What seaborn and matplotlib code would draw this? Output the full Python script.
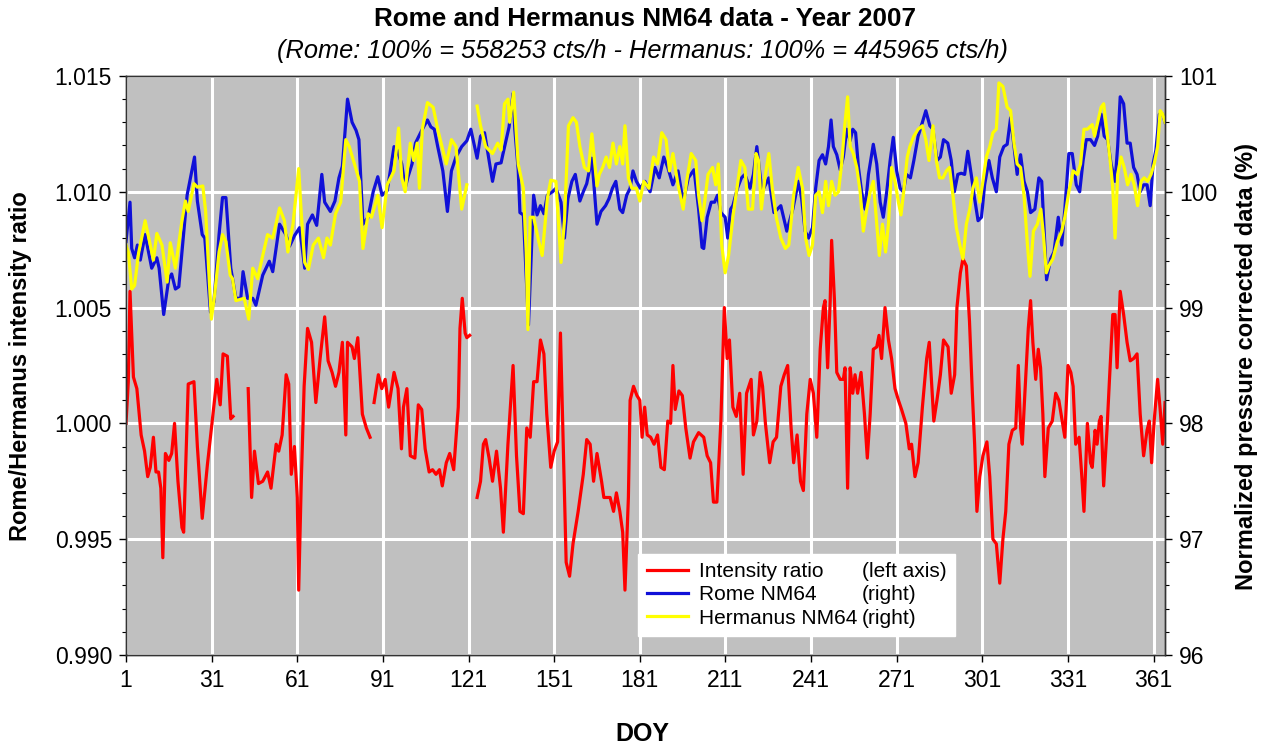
import numpy as np
import pandas as pd
import matplotlib
matplotlib.use("Agg")
import matplotlib.pyplot as plt
import seaborn as sns
from matplotlib.lines import Line2D
from matplotlib.ticker import MultipleLocator

# intensity ratio Rome/Hermanus (left axis), NaN = data gap
ratio_doy = [1, 1.8, 2.4, 3.6, 4.8, 6.3, 7.5, 8.6, 9.5, 10.6, 11.5, 12.4, 13.2, 13.9, 14.8, 16, 17, 18, 19.2, 20.6,
             21.2, 22.8, 24.8, 26, 27.7, 29.5, 31.2, 32.8, 34, 35, 36.5, 37.7, 38.5, 41,
             43.8, 45, 46, 47.4, 48.9, 50.6, 51.8, 53.6, 54.5, 55.7, 57.1, 58, 58.9, 60, 61, 61.5, 62.4, 63.4,
             64.6, 66, 67.5, 69, 70.6, 71.8, 73.2, 74.4, 75.6, 76.8, 78, 78.6, 80.2, 81, 82.2, 83.8, 85.2, 86.5, 87.2,
             87.9, 89.4, 90.6, 91.8, 93, 94.9, 96.3, 97.5, 98.2, 99.4, 100.6, 102.2, 103.4, 104.6, 105.8, 107.2,
             108.4, 109.6, 110.8, 111.8, 113.2, 114.4, 115.8, 117.4, 118, 118.8, 119.8, 120.4, 121.4, 122.7,
             124, 125.2, 126.2, 127, 128.2, 129.4, 130.8, 132.2, 133.2, 134.8, 136.6, 137.8, 139, 140.2, 141.4,
             142.6, 143.8, 145, 146.2, 147.4, 148.4, 149.8, 151, 152.2, 153.2, 154.4, 155.2, 156.4, 157.6, 159.4,
             161.2, 162.4, 163.6, 164.8, 166, 167.6, 168.4, 169.4, 170.6, 171.8, 172.8, 174, 175, 175.8, 177,
             177.6, 178.8, 180, 181, 181.8, 182.7, 183.6, 184.8, 186, 187.2, 188.4, 189.6, 190.8, 191.8, 192.6,
             193.4, 194.7, 195.9, 197.1, 198.6, 199.8, 201.6, 203.4, 204.6, 205.8, 206.8, 208, 209.4, 210.6,
             211.6, 212.4, 213.6, 214.8, 216, 217.2, 218.4, 220, 220.8, 222, 223.2, 224, 225, 226.5, 227.7, 228.9,
             230.4, 231.6, 232.8, 234, 234.9, 236.1, 237.3, 238.3, 239.5, 240.7, 241.8, 243, 244.2, 245.3, 245.9,
             246.8, 247.7, 248.2, 249.2, 250, 251.2, 252.3, 252.9, 253.8, 254.7, 255.6, 256.4, 257.3, 258.5,
             259.7, 260.7, 261.7, 262.8, 264, 264.8, 265.7, 266.9, 268.1, 269.2, 270.4, 271.6, 272.7, 274.2,
             275.4, 276.2, 277.4, 278.5, 280, 281.5, 282.4, 283.2, 284, 285.1, 286.3, 287.4, 289, 290.1, 291.3,
             292.1, 293.3, 294.2, 295.4, 296.5, 297.5, 298.3, 299.1, 300.1, 301.2, 302.6, 303.6, 304.7, 305.9,
             307.1, 308.2, 309.2, 310.3, 311.5, 312.7, 313.6, 314.4, 315, 315.9, 317.1, 317.9, 318.7, 319.7,
             320.6, 321.4, 322.2, 322.9, 324.1, 325.5, 326.7, 327.8, 329, 329.9, 331, 332, 332.8, 333.7, 334.9,
             335.8, 336.6, 337.8, 338.9, 339.5, 340.5, 341.2, 342, 342.6, 343.5, 344.7, 345.5, 346.7, 347.5,
             348.2, 349.3, 350.5, 351.7, 352.8, 354, 355.2, 356.3, 357.5, 358.7, 359.5, 360.3, 361.2, 362.4,
             363.3, 364.2, 365]
ratio_val = [1.0000, 1.0018, 1.0057, 1.0020, 1.0015, 0.9995, 0.9988, 0.9977, 0.9981, 0.9994, 0.9979, 0.9979,
             0.9972, 0.9942, 0.9987, 0.9984, 0.9987, 1.0000, 0.9975, 0.9955, 0.9953, 1.0017, 1.0018, 0.9990,
             0.9959, 0.9982, 1.0001, 1.0019, 1.0008, 1.0030, 1.0029, 1.0002, 1.0003, np.nan,
             1.0015, 0.9968, 0.9988, 0.9974, 0.9975, 0.9979, 0.9972, 0.9991, 0.9988, 0.9995, 1.0021, 1.0017,
             0.9978, 0.9990, 0.9968, 0.9928, 0.9975, 1.0016, 1.0041, 1.0035, 1.0009, 1.0028, 1.0046, 1.0027,
             1.0022, 1.0016, 1.0022, 1.0035, 0.9995, 1.0035, 1.0033, 1.0028, 1.0037, 1.0004, 0.9998, 0.9994,
             np.nan,
             1.0009, 1.0021, 1.0015, 1.0019, 1.0007, 1.0022, 1.0015, 0.9989, 1.0007, 1.0015, 0.9986, 0.9985,
             1.0008, 1.0006, 0.9989, 0.9979, 0.9980, 0.9978, 0.9980, 0.9973, 0.9983, 0.9987, 0.9980, 1.0007,
             1.0041, 1.0054, 1.0039, 1.0037, 1.0038, np.nan,
             0.9968, 0.9975, 0.9991, 0.9993, 0.9985, 0.9975, 0.9988, 0.9972, 0.9953, 0.9991, 1.0025, 0.9986,
             0.9962, 0.9961, 0.9998, 0.9994, 1.0018, 1.0018, 1.0036, 1.0030, 1.0004, 0.9981, 0.9988, 0.9992,
             1.0039, 0.9980, 0.9940, 0.9934, 0.9948, 0.9962, 0.9978, 0.9993, 0.9991, 0.9975, 0.9987, 0.9975,
             0.9968, 0.9968, 0.9968, 0.9962, 0.9970, 0.9962, 0.9953, 0.9928, 0.9968, 1.0010, 1.0016, 1.0012,
             1.0010, 0.9994, 1.0007, 0.9995, 0.9994, 0.9991, 0.9995, 0.9981, 0.9980, 1.0001, 1.0000, 1.0025,
             1.0006, 1.0014, 1.0012, 0.9998, 0.9985, 0.9992, 0.9996, 0.9994, 0.9986, 0.9983, 0.9966, 0.9966,
             1.0001, 1.0050, 1.0028, 1.0036, 1.0007, 1.0003, 1.0013, 0.9978, 1.0013, 1.0019, 0.9995, 1.0001,
             1.0022, 1.0016, 1.0000, 0.9983, 0.9992, 0.9994, 1.0016, 1.0021, 1.0025, 0.9998, 0.9983, 0.9995,
             0.9975, 0.9971, 1.0004, 1.0019, 1.0013, 0.9994, 1.0032, 1.0050, 1.0053, 1.0024, 1.0053, 1.0079,
             1.0053, 1.0022, 1.0019, 1.0019, 1.0024, 0.9972, 1.0024, 1.0013, 1.0021, 1.0013, 1.0022, 1.0004,
             0.9985, 1.0004, 1.0032, 1.0033, 1.0038, 1.0028, 1.0050, 1.0036, 1.0028, 1.0015, 1.0010, 1.0006,
             1.0000, 0.9989, 0.9991, 0.9977, 0.9983, 1.0007, 1.0028, 1.0035, 1.0018, 1.0001, 1.0010, 1.0021,
             1.0036, 1.0033, 1.0013, 1.0021, 1.0050, 1.0065, 1.0071, 1.0068, 1.0044, 1.0013, 0.9991, 0.9962,
             0.9977, 0.9986, 0.9992, 0.9977, 0.9950, 0.9948, 0.9931, 0.9950, 0.9962, 0.9991, 0.9997, 0.9998,
             1.0025, 0.9998, 0.9991, 1.0013, 1.0041, 1.0053, 1.0035, 1.0019, 1.0032, 1.0024, 1.0004, 0.9977,
             0.9998, 1.0001, 1.0013, 1.0010, 1.0001, 0.9994, 1.0025, 1.0022, 1.0016, 0.9991, 0.9994, 0.9978,
             0.9962, 1.0000, 0.9983, 0.9981, 0.9997, 0.9991, 1.0001, 1.0003, 0.9973, 0.9998, 1.0018, 1.0047,
             1.0047, 1.0024, 1.0057, 1.0047, 1.0035, 1.0027, 1.0028, 1.0030, 1.0004, 0.9986, 0.9997, 1.0001,
             0.9983, 1.0001, 1.0019, 1.0006, 0.9991, 1.0009]

# Rome NM64, % of reference (right axis)
rome_doy = [1, 2.4, 3, 4, 5, 6, 7.7, 10, 11.8, 12.6, 14.2, 16, 17, 18.3, 19.5, 22.4, 25, 26, 27.7, 28.6, 30.6,
            31.8, 33.6, 34.8, 36, 37.7, 39.5, 41.2, 42, 43.6, 45.4, 46.5, 48.9, 51.2, 52.4, 54.8, 57, 58.3, 60,
            61.8, 62.6, 63.6, 64.6, 66.3, 67.8, 69.6, 70.6, 72.6, 74.2, 75.6, 76.8, 78.6, 80.2, 81.6, 82.6, 84,
            85.8, 87.6, 89.2, 90.7, 92.5, 93.4, 94.9, 96, 97.6, 98.8, 99.8, 101.2, 102.4, 104.6, 106.6, 107.8,
            109, 110.2, 112, 113.6, 115, 116.6, 118.6, 120.4, 121.8, 124, 125.2, 126.6, 129.4, 130.6, 132.4, 133,
            135.2, 136.6, 137.2, 138.4, 139, 140.2, 142, 143.8, 145, 146.2, 147.4, 148.6, 150.4, 151.6, 153.4,
            154.6, 155.8, 157.2, 158.4, 160, 161.2, 162.4, 164.2, 166, 167.4, 169, 170.2, 171.4, 172.6, 174, 175,
            176.4, 177.6, 178.6, 179.8, 181.2, 182.8, 184.6, 186.3, 187.8, 189.4, 190.8, 192.6, 194.4, 196.2,
            198, 200, 201.6, 202.8, 203.4, 204.6, 206, 207.2, 208.2, 209.4, 210.9, 211.8, 212.8, 213.6, 215.2,
            216.6, 217.8, 219.6, 220.8, 222, 223.8, 226.2, 228, 230.4, 232.5, 234.6, 236.6, 237.7, 238.9, 240.1,
            241.5, 242.6, 243.8, 245, 246.1, 247.1, 248, 248.8, 250, 251.2, 252.3, 253.5, 254.7, 255.6, 256.6,
            257.6, 258.7, 259.9, 261.1, 262.8, 264, 265.2, 266.3, 267.5, 268.7, 269.8, 271, 272.2, 273.3, 274.4,
            275.8, 277, 278.5, 280, 281.2, 282.6, 283.7, 285.1, 286.3, 287.4, 288.9, 290.1, 291.2, 292.4, 293.6,
            294.8, 295.9, 297.1, 298.3, 299.5, 300.7, 301.8, 303.3, 304.5, 305.9, 307.1, 308.5, 309.7, 310.9,
            312.1, 313.2, 314.4, 315.6, 316.8, 317.9, 319.4, 320.8, 321.8, 322.6, 323.5, 324.9, 326.1, 327.6,
            328.8, 329.9, 331.3, 332.5, 333.9, 335.1, 336.3, 337.4, 338.9, 340.3, 341.4, 342.6, 343.7, 344.9,
            346.1, 347.5, 348.4, 349.3, 350.5, 351.7, 352.8, 354, 355.2, 356.3, 357.5, 358.7, 359.8, 360.8,
            361.8, 363, 364.2, 365]
rome_val = [99.57, 99.91, 99.51, 99.43, 99.54, 99.41, 99.63, 99.34, 99.43, 99.34, 98.94, 99.25, 99.29, 99.16,
            99.18, 99.97, 100.30, 99.92, 99.63, 99.60, 98.96, 99.05, 99.63, 99.95, 99.95, 99.34, 99.08, 99.08,
            99.31, 99.08, 99.08, 99.02, 99.28, 99.40, 99.31, 99.72, 99.63, 99.53, 99.62, 99.69, 99.54, 99.34,
            99.72, 99.80, 99.71, 100.15, 99.91, 99.83, 99.92, 100.12, 100.22, 100.80, 100.60, 100.53, 100.45,
            99.72, 99.78, 100.00, 100.13, 99.97, 100.01, 100.15, 100.39, 100.36, 100.24, 100.03, 100.13, 100.24,
            100.42, 100.53, 100.62, 100.56, 100.54, 100.39, 100.18, 99.83, 100.18, 100.30, 100.39, 100.44,
            100.54, 100.29, 100.48, 100.51, 100.09, 100.24, 100.25, 100.32, 100.56, 100.85, 100.54, 100.19,
            99.82, 99.80, 98.85, 99.97, 99.80, 99.88, 99.81, 99.97, 100.00, 100.03, 99.91, 99.60, 99.94, 100.09,
            100.15, 99.92, 100.00, 100.07, 100.29, 99.72, 99.83, 99.88, 99.94, 100.03, 100.09, 99.85, 99.82,
            99.97, 100.03, 100.18, 100.09, 100.03, 100.09, 100.00, 100.21, 100.12, 100.30, 100.21, 100.06,
            100.18, 99.91, 100.12, 100.19, 99.85, 99.52, 99.51, 99.78, 99.91, 99.91, 99.97, 99.82, 99.78, 99.60,
            99.85, 99.88, 100.03, 100.12, 100.15, 100.03, 100.15, 100.39, 100.00, 100.12, 99.82, 99.88, 99.66,
            99.85, 100.09, 99.94, 99.66, 99.60, 99.69, 100.03, 100.27, 100.32, 100.24, 100.39, 100.62, 100.39,
            100.32, 100.19, 100.30, 100.54, 100.44, 100.54, 100.51, 100.21, 100.00, 99.85, 100.15, 100.41,
            100.24, 99.91, 99.78, 100.00, 100.27, 100.47, 100.18, 100.03, 100.00, 100.15, 100.12, 100.27,
            100.48, 100.60, 100.70, 100.57, 100.54, 100.27, 100.30, 100.45, 100.42, 100.27, 100.00, 100.15,
            100.16, 100.15, 100.35, 100.15, 99.94, 99.75, 99.78, 100.06, 100.27, 100.12, 100.00, 100.30, 100.39,
            100.41, 100.64, 100.39, 100.15, 100.32, 100.09, 100.00, 99.82, 99.85, 100.12, 100.09, 99.69, 99.24,
            99.42, 99.48, 99.78, 99.54, 99.85, 100.33, 100.33, 100.06, 100.00, 100.27, 100.45, 100.45, 100.40,
            100.48, 100.67, 100.48, 100.45, 100.24, 100.09, 100.39, 100.82, 100.76, 100.42, 100.42, 100.21,
            100.15, 100.00, 100.06, 100.06, 99.88, 100.24, 100.36, 100.67, 100.67, 100.60]

# Hermanus NM64, % of reference (right axis), NaN = data gap
herm_doy = [1, 1.8, 3, 4, 5.4, 7.7, 9.5, 10.6, 11.8, 13.6, 15.4, 16.5, 18.3, 20.6, 21.8, 22.8, 24.8, 26, 27.9,
            28.9, 30, 30.9, 32, 33.6, 34.8, 36, 37.5, 38.3, 39.5, 42.4, 44, 45.4, 47.1, 48.9, 50.6, 52.4, 54.8,
            56.5, 57.7, 59.5, 61.5, 62.4, 63.6, 64.9, 66.6, 68.4, 70.2, 71.4, 72.6, 74.4, 76.2, 78, 79.2, 81.4,
            82.8, 84, 85.8, 87, 89.2, 90.7, 92.5, 94.9, 96.5, 97.6, 98.8, 100.6, 101.8, 103, 103.8, 104.8, 106.6,
            108.6, 110.2, 113.2, 115, 116.6, 118.6, 120.4, 122.2,
            124, 125.2, 127, 129.4, 131.2, 132.4, 133.6, 134.8, 135.4, 136.8, 138.4, 140.2, 141.2, 141.8, 142.6,
            143.8, 145.6, 146.8, 148.6, 149.8, 151.6, 153.4, 154.6, 156, 157.6, 158.8, 160, 161.6, 163, 164.2,
            166, 166.8, 168, 169.2, 170.4, 171.6, 172.8, 174, 175, 175.8, 177, 178.2, 179.8, 181, 182.4, 184.2,
            185.8, 187.2, 188.7, 190.2, 191.4, 192.6, 194.4, 196.2, 197.4, 199, 200.6, 201.6, 202.8, 203.4,
            204.9, 206.5, 207.6, 208.5, 209.7, 210.9, 212.1, 213.6, 215.2, 216.4, 217.8, 219, 220.5, 221.7,
            222.6, 223.6, 224.8, 226.2, 227.4, 228.8, 230.4, 232, 233.2, 234.9, 236.5, 238, 239.1, 240.3, 241.5,
            242.6, 243.8, 245, 246.1, 247.1, 248.2, 249.4, 250.6, 251.7, 252.9, 253.8, 254.7, 255.8, 257, 258.2,
            259.3, 260.5, 261.7, 262.8, 264, 264.9, 266, 267.1, 268.1, 269.2, 270.4, 271.6, 272.5, 273.3, 274.7,
            275.6, 277, 278.5, 280, 281.2, 282.3, 283.7, 284.9, 286, 287.2, 288.4, 289.5, 290.7, 291.9, 293.1,
            294.2, 295.4, 296.6, 297.7, 298.9, 300.1, 301.2, 302.4, 303.6, 304.7, 305.9, 306.8, 308.2, 309.7,
            310.9, 312.1, 313.2, 314.4, 315.6, 316.8, 317.7, 318.9, 320.3, 321.5, 322.4, 323.4, 324.3, 325.7,
            327.3, 328.8, 329.9, 331.3, 332.8, 334.3, 335.4, 336.6, 337.8, 339.5, 340.3, 341.4, 342.6, 343.5,
            344.7, 345.9, 346.7, 347.5, 348.4, 349.6, 350.7, 351.9, 353.1, 354.2, 355.4, 356.6, 357.7, 358.9,
            360.1, 361.2, 362.4, 363.3, 364.2, 365]
herm_val = [99.54, 99.48, 99.16, 99.19, 99.47, 99.75, 99.54, 99.41, 99.64, 99.54, 99.22, 99.56, 99.34, 99.75,
            99.92, 99.83, 100.07, 100.04, 100.05, 99.83, 99.31, 98.90, 99.10, 99.48, 99.63, 99.57, 99.28, 99.25,
            99.06, 99.08, 98.90, 99.34, 99.25, 99.45, 99.63, 99.60, 99.86, 99.75, 99.48, 99.72, 100.20, 99.81,
            99.39, 99.33, 99.54, 99.60, 99.43, 99.60, 99.54, 99.81, 99.91, 100.45, 100.39, 100.21, 100.09, 99.51,
            99.81, 99.78, 99.97, 99.69, 100.06, 100.18, 100.55, 100.12, 100.00, 100.42, 100.27, 100.42, 100.03,
            100.54, 100.77, 100.73, 100.54, 100.24, 100.45, 100.39, 99.85, 100.06, np.nan,
            100.74, 100.57, 100.39, 100.33, 100.42, 100.36, 100.76, 100.80, 100.60, 100.86, 100.24, 100.03,
            99.48, 98.81, 99.78, 99.78, 99.57, 99.45, 99.94, 100.10, 100.09, 99.39, 99.75, 100.57, 100.64,
            100.60, 100.39, 100.21, 100.18, 100.50, 100.05, 100.15, 100.21, 100.30, 100.21, 100.42, 100.24,
            100.39, 100.24, 100.57, 100.12, 100.03, 100.03, 99.92, 100.09, 100.03, 100.30, 100.24, 100.51,
            100.45, 100.18, 100.33, 100.06, 99.85, 100.09, 100.33, 100.27, 99.97, 99.75, 99.85, 100.15, 100.21,
            100.06, 100.24, 99.54, 99.30, 99.45, 99.78, 100.06, 100.27, 100.21, 99.85, 99.85, 100.33, 100.27,
            99.85, 100.12, 100.33, 100.03, 99.78, 99.60, 99.51, 99.54, 99.97, 100.21, 100.03, 99.60, 99.45,
            99.54, 99.97, 100.00, 99.82, 100.09, 99.88, 100.09, 99.97, 100.00, 100.24, 100.60, 100.82, 100.39,
            100.33, 100.21, 100.00, 99.66, 99.85, 100.00, 100.09, 99.72, 99.45, 99.72, 99.48, 99.72, 100.21,
            100.09, 99.91, 99.80, 99.97, 100.30, 100.39, 100.48, 100.54, 100.57, 100.45, 100.27, 100.57, 100.27,
            100.12, 100.12, 100.18, 100.21, 99.97, 99.69, 99.54, 99.42, 99.72, 99.85, 100.03, 100.12, 99.91,
            100.09, 100.30, 100.39, 100.51, 100.54, 100.94, 100.91, 100.73, 100.70, 100.42, 100.24, 100.21,
            99.97, 99.54, 99.27, 99.66, 99.72, 99.85, 99.63, 99.30, 99.36, 99.42, 99.57, 99.66, 99.78, 100.00,
            100.18, 100.15, 100.24, 100.54, 100.54, 100.58, 100.48, 100.60, 100.73, 100.76, 100.51, 100.24,
            100.03, 99.60, 100.15, 100.30, 100.21, 100.06, 100.15, 100.06, 99.88, 100.09, 100.12, 100.09,
            100.15, 100.24, 100.39, 100.70, 100.67, 100.60]

doy_ticks = [1, 31, 61, 91, 121, 151, 181, 211, 241, 271, 301, 331, 361]
left_ticks = [0.990, 0.995, 1.000, 1.005, 1.010, 1.015]
right_ticks = [96, 97, 98, 99, 100, 101]

title = "Rome and Hermanus NM64 data - Year 2007"
subtitle = "(Rome: 100% = 558253 cts/h - Hermanus: 100% = 445965 cts/h)"

RED, BLUE, YELLOW = "#ff0000", "#1010d8", "#ffff00"


def segmented(doy, val, name):
    df = pd.DataFrame({"doy": doy, name: val})
    df["seg"] = df[name].isna().cumsum()
    return df.dropna()


ratio_df = segmented(ratio_doy, ratio_val, "ratio")
rome_df = pd.DataFrame({"doy": rome_doy, "pct": rome_val})
herm_df = segmented(herm_doy, herm_val, "pct")

plt.rcParams["font.family"] = ["Liberation Sans", "DejaVu Sans"]

fig = plt.figure(figsize=(12.78, 7.47), dpi=100)
ax = fig.add_axes([0.0986, 0.1232, 0.8130, 0.7751])
ax.set_facecolor("#c0c0c0")
ax.set_axisbelow(True)
ax.grid(True, color="white", lw=2.2)

sns.lineplot(data=ratio_df, x="doy", y="ratio", units="seg", estimator=None, sort=False,
             color=RED, lw=2.3, ax=ax, legend=False)

ax2 = ax.twinx()
sns.lineplot(data=rome_df, x="doy", y="pct", estimator=None, sort=False,
             color=BLUE, lw=2.3, ax=ax2, legend=False)
sns.lineplot(data=herm_df, x="doy", y="pct", units="seg", estimator=None, sort=False,
             color=YELLOW, lw=2.3, ax=ax2, legend=False)

ax.set_xlim(1, 365)
ax.set_ylim(0.990, 1.015)
ax2.set_ylim(96, 101)
ax.set_xticks(doy_ticks)
ax.set_yticks(left_ticks)
ax.set_yticklabels([f"{t:.3f}" for t in left_ticks])
ax2.set_yticks(right_ticks)
ax.yaxis.set_minor_locator(MultipleLocator(0.001))
ax2.yaxis.set_minor_locator(MultipleLocator(0.2))

for a in (ax, ax2):
    a.tick_params(axis="both", which="major", labelsize=16.5, direction="out", length=5, width=1, pad=5)
    a.tick_params(axis="y", which="minor", direction="out", length=3, width=0.8)
    for s in a.spines.values():
        s.set_color("#333333")
        s.set_linewidth(1)

ax.set_xlabel("")
ax.set_ylabel("")
ax2.set_xlabel("")
ax2.set_ylabel("")

fig.text(0.016, 0.51, "Rome/Hermanus intensity ratio", rotation=90, ha="center", va="center",
         fontsize=17, fontweight="bold")
fig.text(0.975, 0.51, "Normalized pressure corrected data (%)", rotation=90, ha="center", va="center",
         fontsize=17, fontweight="bold")
fig.text(0.503, 0.018, "DOY", ha="center", va="center", fontsize=18, fontweight="bold")
fig.text(0.505, 0.975, title, ha="center", va="center", fontsize=18.8, fontweight="bold")
fig.text(0.503, 0.932, subtitle, ha="center", va="center", fontsize=18.3, fontstyle="italic")

blank = Line2D([], [], color="none")
handles = [Line2D([], [], color=RED, lw=2.3), Line2D([], [], color=BLUE, lw=2.3),
           Line2D([], [], color=YELLOW, lw=2.3), blank, blank, blank]
labels = ["Intensity ratio", "Rome NM64", "Hermanus NM64", "(left axis)", "(right)", "(right)"]
leg = ax2.legend(handles, labels, ncol=2, loc="lower left", bbox_to_anchor=(0.493, 0.033),
                 borderaxespad=0, fontsize=15, handlelength=2.0, handletextpad=0.5,
                 columnspacing=-2.25, labelspacing=0.2, borderpad=0.4,
                 frameon=True, fancybox=False, framealpha=1, edgecolor="white", facecolor="white")

fig.savefig("out.png", dpi=100)
